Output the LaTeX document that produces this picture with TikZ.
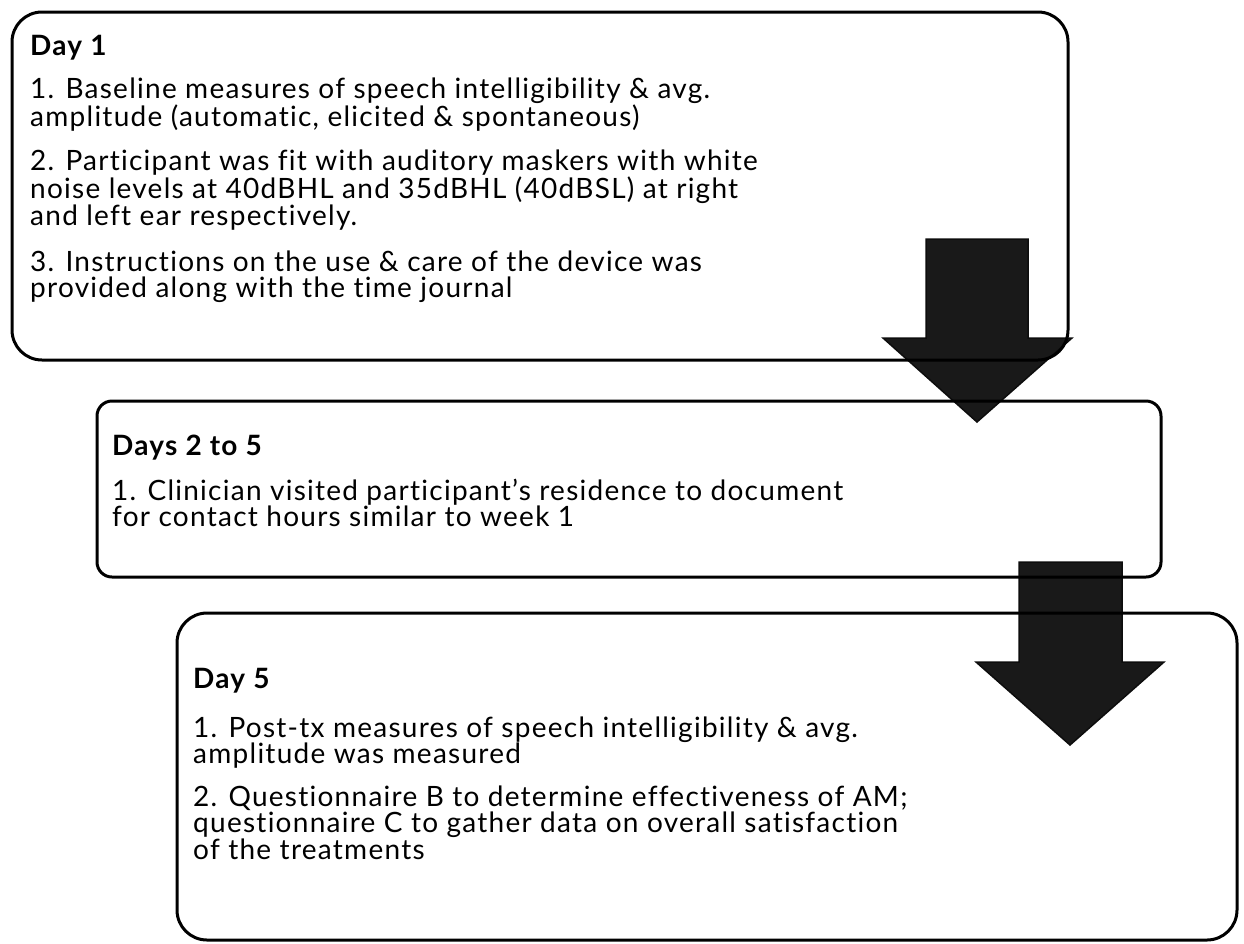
\documentclass[tikz,border=0pt]{standalone}
\usepackage{fontspec}
\setmainfont{Lato}[Ligatures=NoCommon, LetterSpace=4.5]
\usetikzlibrary{calc}

\tikzset{
  daybox/.style={draw=black, line width=3pt, rounded corners=#1},
  daybox/.default=30pt,
  bigarrow/.style={fill=black!90, draw=black!95, line width=1.5pt},
  daytitle/.style={anchor=base west, inner sep=0pt, font=\bfseries\fontsize{28}{26.5}\selectfont},
  daytext/.style={anchor=base west, inner sep=0pt, align=left, font=\fontsize{28}{26.5}\selectfont},
}

\begin{document}
\begin{tikzpicture}[x=1pt, y=-1pt]

  \useasboundingbox (0,0) rectangle (1244,943);

  \coordinate (B1nw) at (12,12);
  \coordinate (B1se) at (1068,360);
  \coordinate (B2nw) at (97,401);
  \coordinate (B2se) at (1161,577);
  \coordinate (B3nw) at (177,613);
  \coordinate (B3se) at (1237,940);

	% block arrows
  \filldraw[bigarrow] (926,239) -- (1028,239) -- (1028,338) -- (1072,338)
    -- (977,422) -- (883,338) -- (926,338) -- cycle;
  \filldraw[bigarrow] (1019,562) -- (1122,562) -- (1122,662) -- (1164,662)
    -- (1070,745) -- (976,662) -- (1019,662) -- cycle;

  \draw[daybox] (B1nw) rectangle (B1se);
  \draw[daybox=15pt] (B2nw) rectangle (B2se);
  \draw[daybox] (B3nw) rectangle (B3se);

	% text (each node sits on the baseline of its last line)
  \node[daytitle] (dayone) at (30,55) {Day 1};
  \node[daytext] (dayoneA) at (30,126.5) {1. Baseline measures of speech intelligibility \& avg.\\amplitude (automatic, elicited \& spontaneous)};
  \node[daytext] (dayoneB) at (30,225) {2. Participant was fit with auditory maskers with white\\noise levels at 40dBHL and 35dBHL (40dBSL) at right\\and left ear respectively.};
  \node[daytext] (dayoneC) at (30,297.5) {3. Instructions on the use \& care of the device was\\provided along with the time journal};

  \node[daytitle] (daystwo) at (112,455) {Days 2 to 5};
  \node[daytext] (daystwoA) at (112,526.5) {1. Clinician visited participant’s residence to document\\for contact hours similar to week 1};

  \node[daytitle] (dayfive) at (193,688) {Day 5};
  \node[daytext] (dayfiveA) at (193,763.5) {1. Post-tx measures of speech intelligibility \& avg.\\amplitude was measured};
  \node[daytext] (dayfiveB) at (193,859) {2. Questionnaire B to determine effectiveness of AM;\\questionnaire C to gather data on overall satisfaction\\of the treatments};

\end{tikzpicture}
\end{document}
